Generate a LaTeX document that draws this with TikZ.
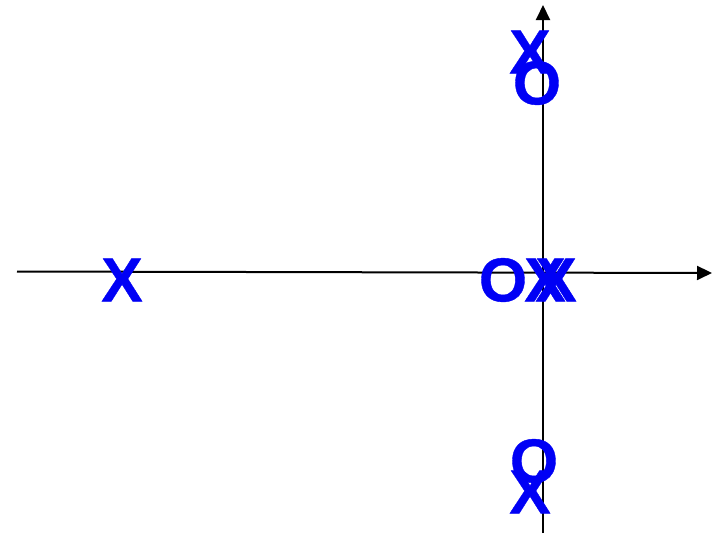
\documentclass[tikz,border=0pt]{standalone}
\usepackage{fontspec}
\setmainfont{Liberation Sans}
\newfontfamily\markfont[FakeBold=0.6]{Liberation Sans Bold}
\usepackage{xcolor}
\usetikzlibrary{arrows.meta,positioning}
\definecolor{markblue}{RGB}{0,0,245}
\tikzset{
  mark text/.style={
    inner sep=0pt,text=markblue,font=\markfont\fontsize{62}{62}\selectfont
  },
  polemark/.style={mark text},
  zeromark/.style={mark text},
  axisline/.style={-{Triangle[length=15pt,width=14pt]},line width=2pt,draw=black}
}
\begin{document}
\begin{tikzpicture}[x=1pt,y=-1pt]
  \useasboundingbox (0,0) rectangle (714,533);
  % axes
  \coordinate (west) at (17,271.5);
  \coordinate (east) at (712,273);
  \coordinate (south) at (543,533);
  \coordinate (north) at (543,5);
  \draw[axisline] (west)--(east);
  \draw[axisline] (south)--(north);
  % poles and zeros
  \node[polemark] (pfar) at (122,280) {X};
  \node[zeromark] (zorig) at (503,280) {O};
  \node[polemark] (porig) at (545,280) {X};
  \node[polemark] (porigb) at (556,280) {X};
  \node[polemark] (pup) at (530,52) {X};
  \node[zeromark] (zup) at (537,83) {O};
  \node[zeromark] (zdown) at (534,461) {O};
  \node[polemark] (pdown) at (530,492) {X};
\end{tikzpicture}
\end{document}
